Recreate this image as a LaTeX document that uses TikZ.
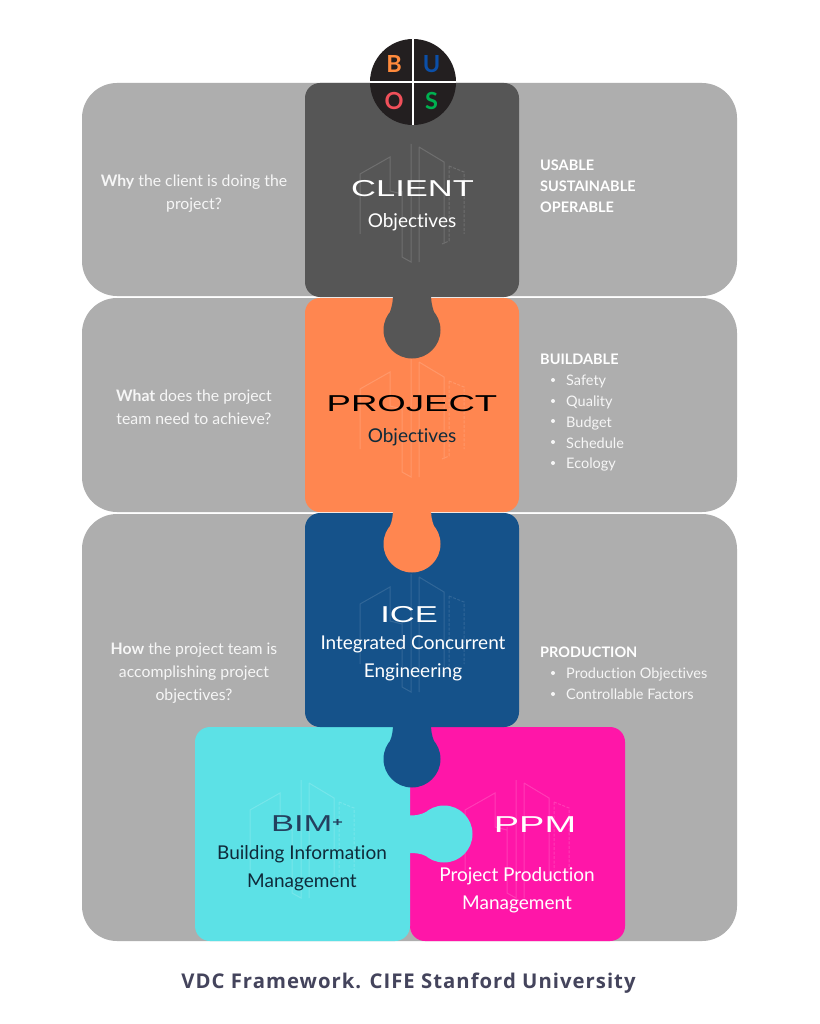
\documentclass[tikz,border=0pt]{standalone}
\usepackage{fontspec}
\setmainfont[Ligatures=NoCommon]{Lato}
\newfontfamily\headfont[FakeStretch=1.5]{Liberation Sans}
\newfontfamily\footfont{Open Sans}
\definecolor{panelgray}{HTML}{AEAEAE}
\definecolor{clientc}{HTML}{565656}
\definecolor{projectc}{HTML}{FF8650}
\definecolor{icec}{HTML}{15528A}
\definecolor{bimc}{HTML}{5CE1E6}
\definecolor{ppmc}{HTML}{FF16A8}
\definecolor{inkdark}{HTML}{0F2A3A}
\definecolor{bimhead}{HTML}{24405E}
\definecolor{footc}{HTML}{44445C}
\definecolor{sidetext}{HTML}{F6F6F6}
\definecolor{discc}{HTML}{231F20}
\definecolor{lb}{HTML}{FF8A3C}
\definecolor{lu}{HTML}{0B4FA8}
\definecolor{lo}{HTML}{F0505A}
\definecolor{ls}{HTML}{00B050}
\tikzset{
  panel/.style={fill=panelgray,rounded corners=35pt},
  piece/.style={rounded corners=15pt},
  heading/.style={font=\headfont\fontsize{23}{26}\selectfont},
  sub/.style={font=\fontsize{19}{28}\selectfont,align=center},
  side/.style={font=\fontsize{15.8}{23}\selectfont,text=sidetext,align=center},
  listtxt/.style={font=\fontsize{14.5}{20.8}\selectfont,text=sidetext,align=left,anchor=north west,inner sep=0pt},
  listhead/.style={listtxt,text=white,font=\fontsize{14.5}{20.8}\bfseries\selectfont},
  bldg/.pic={
    \draw[pic actions,line width=1pt] (-52,30) -- (-52,-30) -- (-22,-47) -- (-22,-13) -- (-10,-10) (-10,-13) -- (-10,53) -- (-1,58) -- (-1,-60);
    \draw[pic actions,line width=1pt] (7,-57) -- (32,-42) -- (32,40) (7,-57) -- (7,58);
    \draw[pic actions,line width=1pt,dash pattern=on 3pt off 1.5pt] (37,-38) -- (52,-32) -- (52,30) (37,-38) -- (37,37) -- (30,40);
  },
  letter/.style={font=\fontsize{23.5}{24}\bfseries\selectfont,inner sep=0pt},
}
\begin{document}
\begin{tikzpicture}[x=1pt,y=-1pt]
\useasboundingbox (0,0) rectangle (819,1024);
\fill[white] (0,0) rectangle (819,1024);
% panels
\fill[panel] (82,83) rectangle (737,296);
\fill[panel] (82,298) rectangle (737,512);
\fill[panel] (82,514) rectangle (737,941);
% PPM
\fill[ppmc,piece] (410,727) rectangle (625,941);
\pic[draw=white,opacity=.16] at (517,840) {bldg};
% BIM with tab
\fill[bimc,piece] (195,727) rectangle (410,941);
\fill[bimc] (405,815) .. controls (415,816) and (420,815) .. (426,812) -- (426,856) .. controls (420,853) and (415,853) .. (405,853) -- cycle;
\fill[bimc] (444,834) circle[radius=28.5];
\pic[draw=white,opacity=.16] at (302,840) {bldg};
% ICE with tab
\fill[icec,piece] (305,513) rectangle (519,727);
\fill[icec] (393,722) -- (431,722) .. controls (431,732) and (432,736) .. (434,741) -- (390,741) .. controls (392,736) and (393,732) .. (393,722) -- cycle;
\fill[icec] (412,759) circle[radius=28.5];
\pic[draw=white,opacity=.12] at (412,634) {bldg};
% Project with tab
\fill[projectc,piece] (305,298) rectangle (519,512);
\fill[projectc] (393,507) -- (431,507) .. controls (431,517) and (432,521) .. (434,526) -- (390,526) .. controls (392,521) and (393,517) .. (393,507) -- cycle;
\fill[projectc] (412,544) circle[radius=28.5];
\pic[draw=white,opacity=.15] at (412,419) {bldg};
% Client with tab
\fill[clientc,piece] (305,83) rectangle (519,297);
\fill[clientc] (393,292) -- (431,292) .. controls (431,302) and (432,306) .. (434,312) -- (390,312) .. controls (392,306) and (393,302) .. (393,292) -- cycle;
\fill[clientc] (412,330) circle[radius=28.5];
\pic[draw=white,opacity=.15] at (412,204) {bldg};
% BUOS circle
\fill[discc] (413,82) circle[radius=43];
\draw[white,line width=1.6pt] (413,39) -- (413,125) (370,82) -- (456,82);
\node[letter,text=lb] (nb) at (394,64) {B};
\node[letter,text=lu] (nu) at (431.5,64) {U};
\node[letter,text=lo] (no) at (394,101) {O};
\node[letter,text=ls] (ns) at (431.5,101) {S};
% headings
\node[heading,text=white] (client) at (412.5,188.5) {CLIENT};
\node[sub,text=white] (clientsub) at (412,222) {Objectives};
\node[heading,text=black,xscale=1.06] (project) at (412,403.5) {PROJECT};
\node[sub,text=inkdark] (projectsub) at (412,437) {Objectives};
\node[heading,text=white] (ice) at (409,614.5) {ICE};
\node[sub,text=white] (icesub) at (413,658) {Integrated Concurrent\\Engineering};
\node[heading,text=bimhead] (bim) at (307,824) {BIM\raisebox{5pt}{\fontsize{12}{12}\bfseries\selectfont+}};
\node[sub,text=inkdark] (bimsub) at (302,868) {Building Information\\Management};
\node[heading,text=white,xscale=1.1] (ppm) at (535,825) {PPM};
\node[sub,text=white] (ppmsub) at (517,890) {Project Production\\Management};
% left texts
\node[side] (why) at (194,194) {\textbf{Why} the client is doing the\\project?};
\node[side] (what) at (194,407) {\textbf{What} does the project\\team need to achieve?};
\node[side] (how) at (194,673) {\textbf{How} the project team is\\accomplishing project\\objectives?};
% right texts
\node[listhead] (usable) at (540,160) {USABLE\\SUSTAINABLE\\OPERABLE};
\node[listhead] (buildable) at (540,354) {BUILDABLE};
\node[listtxt] (blist) at (566,375) {Safety\\Quality\\Budget\\Schedule\\Ecology};
\foreach \y in {380,401,421,442,463} \fill[sidetext] (553,\y) circle[radius=2];
\node[listhead] (production) at (540,647) {PRODUCTION};
\node[listtxt] (plist) at (566,668) {Production Objectives\\Controllable Factors};
\foreach \y in {673,694} \fill[sidetext] (553,\y) circle[radius=2];
% caption
\node[font=\footfont\fontsize{20.3}{24}\selectfont,text=footc] (caption) at (409,983) {\addfontfeature{LetterSpace=5}\textbf{VDC Framework. CIFE Stanford University}};
\end{tikzpicture}
\end{document}
